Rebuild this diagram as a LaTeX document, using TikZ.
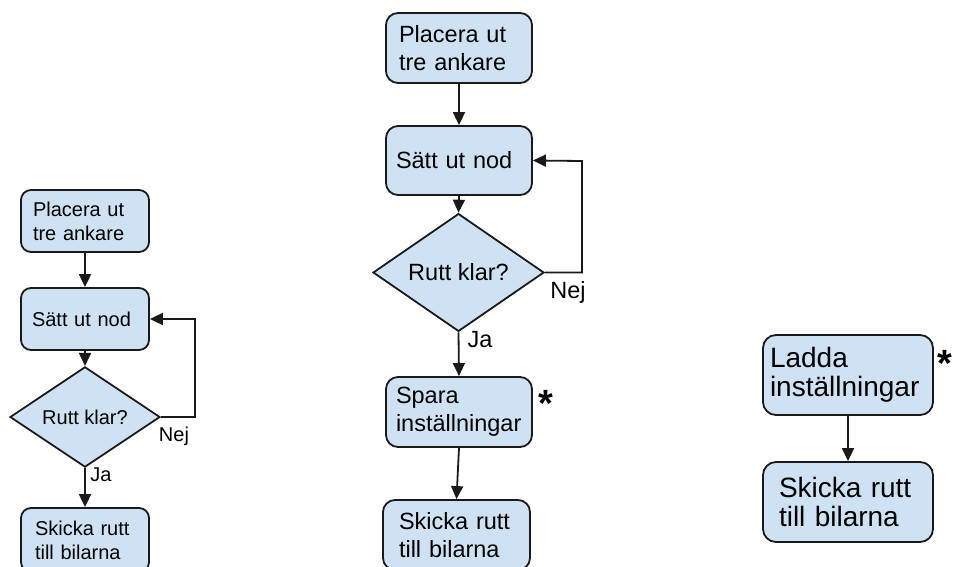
\documentclass[tikz,border=0pt]{standalone}
\usepackage{fontspec}
\setmainfont{Liberation Sans}
\usetikzlibrary{shapes.geometric,arrows.meta}
\definecolor{boxfill}{HTML}{CFE2F3}
\definecolor{boxline}{HTML}{1A1A1A}
\tikzset{
  flowbox/.style={draw=boxline, line width=1.8pt, fill=boxfill, rounded corners=10pt, align=left, inner ysep=0pt, text=black},
  decbox/.style={draw=boxline, line width=1.8pt, fill=boxfill, diamond, inner sep=0pt, text=black},
  arr/.style={draw=boxline, line width=1.8pt, -{Triangle[length=13pt,width=12pt]}},
  fs/.style={font=\fontsize{20}{24}\selectfont},
  fm/.style={font=\fontsize{23.5}{28}\selectfont},
  fr/.style={font=\fontsize{28}{29}\selectfont},
  starfont/.style={font=\fontsize{38}{40}\selectfont\bfseries},
  lbl/.style={inner sep=0pt, text=black}
}
\begin{document}
\begin{tikzpicture}[x=1pt,y=-1pt]
\useasboundingbox (0,0) rectangle (953,567);
% ---- left ----
\node[flowbox, fs, inner xsep=12pt, text width=104pt, minimum height=62pt] (L1) at (85,221) {Placera ut\\tre ankare};
\node[flowbox, fs, inner xsep=11pt, text width=106pt, minimum height=62pt] (L2) at (85,319) {Sätt ut nod};
\node[decbox, fs, minimum width=150pt, minimum height=87pt] (L3) at (85,417) {Rutt klar?};
\node[flowbox, fs, inner xsep=14pt, text width=100pt, minimum height=64pt] (L4) at (85,540) {Skicka rutt\\till bilarna};
\coordinate (Lc) at (195,319);
\draw[arr] (L1.south) -- (L2.north);
\draw[arr] (L2.south) -- (L3.north);
\draw[arr] (L3.south) -- (L4.north);
\draw[arr] (L3.east) -| (Lc) -- (L2.east);
\node[lbl, fs] (Lnej) at (174,436) {Nej};
\node[lbl, fs] (Lja) at (101,475) {Ja};
% ---- middle ----
\node[flowbox, fm, rounded corners=12pt, inner xsep=13pt, text width=120pt, minimum height=70pt] (M1) at (459,48) {Placera ut\\tre ankare};
\node[flowbox, fm, rounded corners=12pt, inner xsep=10pt, text width=126pt, minimum height=69pt] (M2) at (459,160.5) {Sätt ut nod};
\node[decbox, fm, minimum width=171pt, minimum height=99pt] (M3) at (458.5,272.5) {Rutt klar?};
\node[flowbox, fm, rounded corners=12pt, inner xsep=10pt, text width=126pt, minimum height=70pt] (M4) at (459,412) {Spara\\inställningar};
\node[flowbox, fm, rounded corners=12pt, inner xsep=16pt, text width=115pt, minimum height=70pt] (M5) at (456.5,535) {Skicka rutt\\till bilarna};
\coordinate (Mc) at (582,161);
\draw[arr] (M1.south) -- (M2.north);
\draw[arr] (M2.south) -- (M3.north);
\draw[arr] (M3.south) -- (M4.north);
\draw[arr] (M4.south) -- (M5.north);
\draw[arr] (M3.east) -| (Mc) -- (M2.east);
\node[lbl, fm] (Mnej) at (568,292) {Nej};
\node[lbl, fm] (Mja) at (480,340) {Ja};
\node[lbl, starfont, anchor=base] (Mstar) at (545.5,416) {*};
% ---- right ----
\node[flowbox, fr, rounded corners=13pt, inner xsep=7pt, text width=156pt, minimum height=80pt] (R1) at (848,375) {Ladda\\inställningar};
\node[flowbox, fr, rounded corners=13pt, inner xsep=16pt, text width=138pt, minimum height=80pt] (R2) at (848,502) {Skicka rutt\\till bilarna};
\draw[arr] (R1.south) -- (R2.north);
\node[lbl, starfont, anchor=base] (Rstar) at (944.5,376) {*};
\end{tikzpicture}
\end{document}
